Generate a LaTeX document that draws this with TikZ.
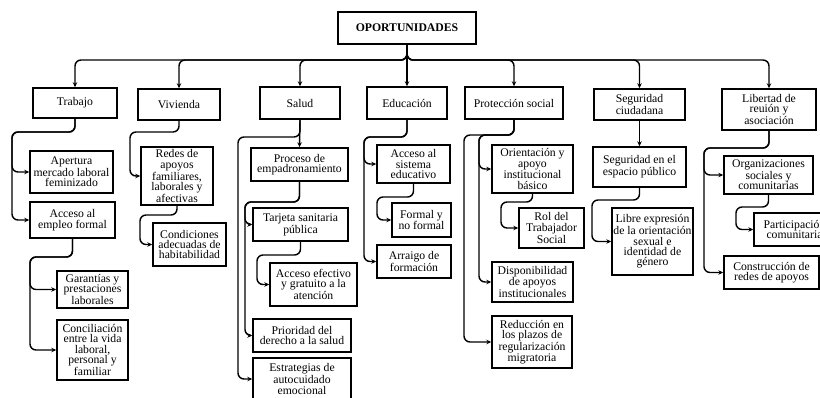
\documentclass[tikz,border=0pt]{standalone}
\usepackage{fontspec}
\setmainfont{Liberation Serif}
\usetikzlibrary{arrows.meta}

\begin{document}
\begin{tikzpicture}[x=0.03cm,y=-0.03cm,>={Stealth[length=4.2pt,width=3.8pt]},
	box/.style 2 args={draw,line width=1.3pt,align=center,inner sep=1pt,
		minimum width=#1*0.03cm,minimum height=#2*0.03cm,font=\fontsize{10}{8.9}\selectfont},
	link/.style={->,line width=1.2pt,rounded corners=1.8mm}]
	\useasboundingbox (0,0) rectangle (820,398);
	% top and first level
	\node[box={138}{32},font=\fontsize{10}{8.9}\selectfont\bfseries] (op) at (407,28) {OPORTUNIDADES};
	\node[box={84}{30}] (trab) at (75,103) {Trabajo};
	\node[box={82}{31}] (viv) at (179,104.5) {Vivienda};
	\node[box={80}{32}] (sal) at (300,103) {Salud};
	\node[box={80}{32}] (edu) at (407,103) {Educación};
	\node[box={98}{32}] (prot) at (514,103) {Protección social};
	\node[box={91}{31}] (seg) at (639.5,104.5) {Seguridad\\ciudadana};
	\node[box={94}{41}] (lib) at (769,109.5) {Libertad de\\reuión y\\asociación};
	% Trabajo
	\node[box={83}{42}] (apert) at (71.5,172) {Apertura\\mercado laboral\\feminizado};
	\node[box={85}{36}] (accemp) at (72.5,220) {Acceso al\\empleo formal};
	\node[box={71}{37}] (gar) at (92.5,289.5) {Garantías y\\prestaciones\\laborales};
	\node[box={71}{60}] (conc) at (92.5,350) {Conciliación\\entre la vida\\laboral,\\personal y\\familiar};
	% Vivienda
	\node[box={72}{58}] (redes) at (177,176) {Redes de\\apoyos\\familiares,\\laborales y\\afectivas};
	\node[box={73}{43}] (cond) at (189.5,244.5) {Condiciones\\adecuadas de\\habitabilidad};
	% Salud
	\node[box={97}{33}] (proc) at (299.5,164.5) {Proceso de\\empadronamiento};
	\node[box={95}{33}] (tarj) at (300.5,224.5) {Tarjeta sanitaria\\pública};
	\node[box={87}{43}] (accef) at (313.5,284.5) {Acceso efectivo\\y gratuito a la\\atención};
	\node[box={98}{33}] (prio) at (302,335.5) {Prioridad del\\derecho a la salud};
	\node[box={98}{42}] (estr) at (302,379) {Estrategias de\\autocuidado\\emocional};
	% Educacion
	\node[box={73}{38}] (accsis) at (413.5,164) {Acceso al\\sistema\\educativo};
	\node[box={59}{34}] (formal) at (421.5,220) {Formal y\\no formal};
	\node[box={74}{33}] (arr) at (414,261.5) {Arraigo de\\formación};
	% Proteccion social
	\node[box={81}{48}] (orient) at (532.5,169) {Orientación y\\apoyo\\institucional\\básico};
	\node[box={65}{40}] (rol) at (551.5,228) {Rol del\\Trabajador\\Social};
	\node[box={81}{40}] (disp) at (532.5,282) {Disponibilidad\\de apoyos\\institucionales};
	\node[box={80}{52}] (reduc) at (532,342) {Reducción en\\los plazos de\\regularización\\migratoria};
	% Seguridad
	\node[box={93}{40}] (segesp) at (639.5,167) {Seguridad en el\\espacio público};
	\node[box={81}{67}] (libre) at (652.5,241.5) {Libre expresión\\de la orientación\\sexual e\\identidad de\\género};
	% Libertad
	\node[box={89}{38}] (org) at (768.5,175) {Organizaciones\\sociales y\\comunitarias};
	\node[box={81}{33}] (part) at (794.5,229.5) {Participación\\comunitaria};
	\node[box={95}{33}] (constr) at (771.5,272.5) {Construcción de\\redes de apoyos};

	\coordinate (bus) at (407,60);
	\foreach \n in {trab,viv,sal,prot,seg,lib}
		\draw[link] (op.south) -- (bus) -| (\n.north);
	\draw[link] (op.south) -- (edu.north);

	\foreach \c in {apert,accemp} \draw[link] (trab.south) |- (12,132) |- (\c.west);
	\foreach \c in {gar,conc} \draw[link] (accemp.south) |- (30,257) |- (\c.west);
	\draw[link] (viv.south) |- (130,132) |- (redes.west);
	\draw[link] (redes.south) |- (140,215) |- (cond.west);
	\draw[link] (sal.south) -- (proc.north);
	\draw[link] (sal.south) |- (238,137) |- (estr.west);
	\foreach \c in {tarj,prio} \draw[link] (proc.south) |- (245,202) |- (\c.west);
	\draw[link] (tarj.south) |- (257,255) |- (accef.west);
	\foreach \c in {accsis,arr} \draw[link] (edu.south) |- (364,137) |- (\c.west);
	\draw[link] (accsis.south) |- (377,197) |- (formal.west);
	\foreach \c in {orient,disp} \draw[link] (prot.south) |- (479,135) |- (\c.west);
	\draw[link] (prot.south) |- (464,135) |- (reduc.west);
	\draw[link] (orient.south) |- (501,202) |- (rol.west);
	\draw[link] (seg.south) -- (segesp.north);
	\draw[link] (segesp.south) |- (592,200) |- (libre.west);
	\foreach \c in {org,constr} \draw[link] (lib.south) |- (704,148) |- (\c.west);
	\draw[link] (org.south) |- (736,207) |- (part.west);
\end{tikzpicture}
\end{document}
